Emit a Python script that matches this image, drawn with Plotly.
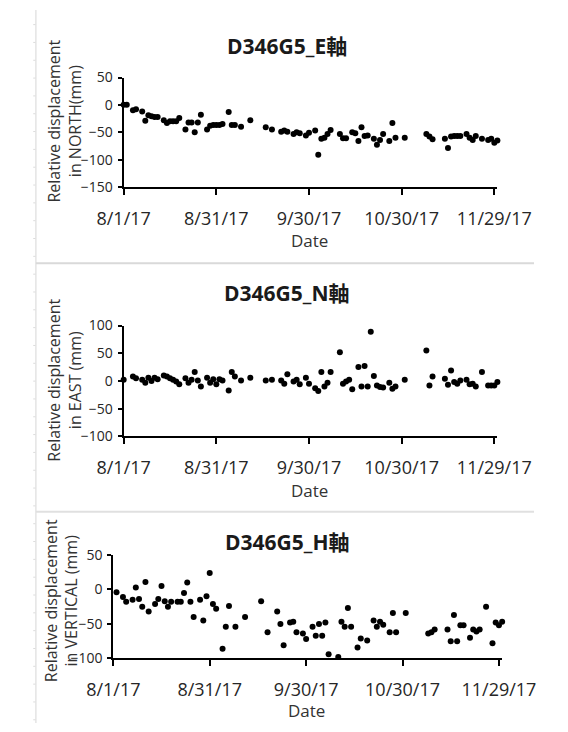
import pandas as pd
import plotly.graph_objects as go

# ---------------- data ----------------
START_DATE = "2017-08-01"
TICK_DATES = ["2017-08-01", "2017-08-31", "2017-09-30", "2017-10-30", "2017-11-29"]
TICK_LABELS = ["8/1/17", "8/31/17", "9/30/17", "10/30/17", "11/29/17"]
X_RANGE = ["2017-08-01", "2017-11-30"]

TITLES = ["D346G5_E軸", "D346G5_N軸", "D346G5_H軸"]
Y_TITLES = ["Relative displacement<br>in NORTH(mm)",
            "Relative displacement<br>in EAST (mm)",
            "Relative displacement<br>in VERTICAL (mm)"]
X_TITLE = "Date"

# days since START_DATE
E_DAYS = [0, 1, 3, 4, 6, 7, 8, 9, 10, 11, 13, 14, 15, 16, 17, 18, 20, 21, 22, 23, 24, 25,
          27, 28, 29, 30, 31, 32, 34, 35, 36, 38, 41, 46, 48, 51, 52, 53, 55, 56, 57, 59, 60,
          62, 63, 64, 65, 66, 67, 70, 71, 72, 74, 75, 76, 77, 78, 79, 81, 82, 83, 84, 86, 87,
          88, 91, 98, 99, 100, 104, 105, 106, 107, 108, 109, 111, 112, 113, 114, 116, 118,
          119, 120, 121]
E_MM = [0, 0, -10, -8, -12, -29, -19, -21, -22, -22, -28, -33, -30, -30, -30, -24, -45, -32,
        -32, -50, -32, -18, -45, -38, -37, -37, -37, -35, -13, -37, -37, -40, -28, -41, -45,
        -49, -47, -49, -53, -50, -52, -56, -51, -47, -91, -62, -60, -53, -46, -53, -61, -61,
        -50, -52, -66, -41, -57, -56, -62, -73, -64, -53, -66, -33, -60, -60, -53, -58, -63,
        -62, -79, -58, -57, -57, -57, -53, -60, -64, -57, -62, -64, -62, -69, -65]

N_DAYS = [0, 3, 4, 6, 7, 8, 9, 10, 11, 13, 14, 15, 16, 17, 18, 20, 21, 22, 23, 24, 25, 27,
          28, 29, 30, 31, 32, 34, 35, 36, 38, 41, 46, 48, 51, 52, 53, 55, 56, 57, 59, 60, 62,
          63, 64, 65, 66, 67, 70, 71, 72, 73, 74, 76, 77, 78, 79, 80, 81, 82, 83, 84, 86, 87,
          88, 91, 98, 99, 100, 104, 105, 106, 107, 108, 109, 111, 112, 113, 114, 116, 118,
          119, 120, 121]
N_MM = [2, 8, 5, 2, -3, 6, 0, 6, 3, 10, 8, 5, 2, -1, -6, 5, -3, 2, 16, 1, -10, 6, -3, 3,
        -6, 3, 1, -17, 16, 8, 1, 6, 1, 2, 1, -5, 12, -1, 2, -6, 6, -5, -13, -18, 16, -10,
        -3, 16, 52, -5, -1, 2, -15, 25, -10, 27, -10, 89, 9, -8, -11, -12, -3, -14, -10, 2,
        55, -8, 8, 4, -7, 19, -2, -5, 1, 2, -6, -5, -10, 16, -8, -8, -8, -2]

H_DAYS = [1, 3, 4, 6, 7, 8, 9, 10, 11, 13, 14, 15, 16, 17, 18, 20, 21, 22, 23, 24, 25, 27,
          28, 29, 30, 31, 32, 34, 35, 36, 38, 41, 46, 48, 51, 52, 53, 55, 56, 57, 59, 60, 62,
          63, 64, 65, 66, 67, 70, 71, 72, 73, 74, 76, 77, 79, 81, 82, 83, 84, 86, 87, 88, 91,
          98, 99, 100, 104, 105, 106, 107, 108, 109, 111, 112, 113, 114, 116, 118, 119, 120,
          121]
H_MM = [-4, -11, -18, -15, 3, -14, -25, 11, -32, -21, -14, 5, -17, -25, -18, -18, -18, -5,
        10, -18, -40, -15, -45, -10, 24, -21, -28, -86, -54, -24, -54, -40, -17, -62, -32,
        -50, -81, -48, -47, -62, -64, -72, -54, -67, -50, -67, -48, -94, -98, -47, -54, -27,
        -54, -84, -71, -74, -45, -54, -47, -51, -62, -34, -62, -34, -64, -62, -58, -58, -75,
        -37, -75, -52, -52, -70, -58, -61, -58, -25, -78, -48, -52, -47]

Y_RANGES = [[-150, 50], [-100, 100], [-100, 50]]

# ---------------- layout geometry (pixels) ----------------
W, H = 568, 732
FONT = "Open Sans, Noto Sans CJK JP, sans-serif"


def px(x):
    return x / W


def py(y):
    return 1 - y / H


# plot boxes: (left, right, top, bottom) in pixels
BOXES = [(108.3, 527.0, 69.3, 181.7),
         (108.3, 527.0, 324.0, 437.7),
         (96.7, 532.3, 559.5, 665.7)]
TITLE_POS = [(291.5, 37), (291.5, 291), (291.0, 546)]
YTITLE_POS = [(42.0, 114), (42.0, 380), (38.0, 606)]
DATE_POS = [(317, 237), (317, 493), (313, 719)]

series = [(E_DAYS, E_MM), (N_DAYS, N_MM), (H_DAYS, H_MM)]

fig = go.Figure()
start = pd.Timestamp(START_DATE)

annotations = []
for i, (days, vals) in enumerate(series):
    n = "" if i == 0 else str(i + 1)
    dates = start + pd.to_timedelta(days, unit="D")
    fig.add_trace(go.Scatter(
        x=dates, y=vals, mode="markers",
        marker=dict(color="black", size=6),
        xaxis="x" + n, yaxis="y" + n, cliponaxis=False, showlegend=False,
        hoverinfo="skip",
    ))
    l, r, t, b = BOXES[i]
    fig.layout["xaxis" + n] = dict(
        domain=[px(l), px(r)], anchor="y" + n, type="date",
        range=X_RANGE, tickvals=TICK_DATES, ticktext=TICK_LABELS,
        ticks="outside", ticklen=6, tickwidth=2, tickcolor="black",
        showline=True, linecolor="black", linewidth=2,
        showgrid=False, zeroline=False,
        tickfont=dict(family=FONT, size=18, color="#262626"),
        ticklabelstandoff=8,
    )
    fig.layout["yaxis" + n] = dict(
        domain=[py(b), py(t)], anchor="x" + n,
        range=Y_RANGES[i], dtick=50, tick0=0,
        ticks="outside", ticklen=4, tickwidth=2, tickcolor="black",
        showline=True, linecolor="black", linewidth=2,
        showgrid=False, zeroline=False,
        tickfont=dict(family=FONT, size=14, color="#262626"),
        ticklabelstandoff=2,
    )
    tx, ty = TITLE_POS[i]
    annotations.append(dict(
        text="<b>" + TITLES[i] + "</b>", x=px(tx), y=py(ty),
        xref="paper", yref="paper", xanchor="center", yanchor="middle",
        showarrow=False, font=dict(family=FONT, size=21, color="#1a1a1a"),
    ))
    yx, yy = YTITLE_POS[i]
    annotations.append(dict(
        text=Y_TITLES[i], x=px(yx), y=py(yy), textangle=-90,
        xref="paper", yref="paper", xanchor="center", yanchor="middle",
        showarrow=False, font=dict(family=FONT, size=16, color="#333333"),
    ))
    dx, dy = DATE_POS[i]
    annotations.append(dict(
        text=X_TITLE, x=px(dx), y=py(dy),
        xref="paper", yref="paper", xanchor="center", yanchor="middle",
        showarrow=False, font=dict(family=FONT, size=17, color="#333333"),
    ))

shapes = [
    dict(type="line", xref="paper", yref="paper", x0=px(10), x1=px(10), y0=0, y1=1,
         line=dict(color="#d6d6d6", width=1)),
    dict(type="line", xref="paper", yref="paper", x0=px(10), x1=1, y0=py(260), y1=py(260),
         line=dict(color="#d9d9d9", width=2)),
    dict(type="line", xref="paper", yref="paper", x0=px(10), x1=1, y0=py(515), y1=py(515),
         line=dict(color="#e0e0e0", width=2)),
]
for k in range(40):
    yy = 15 + k * 18.3
    if yy > H:
        break
    shapes.append(dict(type="line", xref="paper", yref="paper", x0=px(7), x1=px(9.5),
                       y0=py(yy), y1=py(yy), line=dict(color="#dcdcdc", width=1)))

fig.update_layout(
    width=W, height=H, margin=dict(l=0, r=0, t=0, b=0),
    paper_bgcolor="white", plot_bgcolor="white",
    annotations=annotations, shapes=shapes,
    font=dict(family=FONT), hovermode=False,
)

fig.write_html("out.html", config={"displayModeBar": False, "staticPlot": True},
               post_script="document.body.style.margin='0px';")
